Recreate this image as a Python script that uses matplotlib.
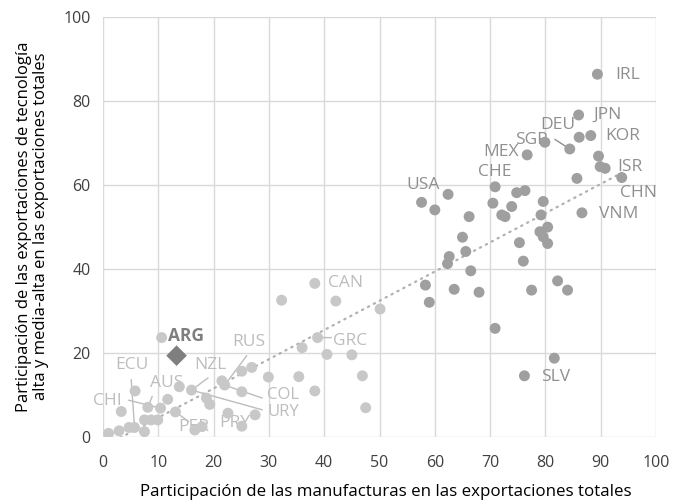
import matplotlib
matplotlib.use("Agg")
import matplotlib.pyplot as plt
import numpy as np

# ---------------- data ----------------
# Group with lower manufacturing share (light grey)
light_x = [1.0, 2.9, 4.7, 5.7, 7.5, 3.3, 5.8, 7.5, 8.7, 9.9, 8.1, 10.4, 11.7, 13.1,
           13.8, 16.0, 18.7, 19.3, 16.6, 17.9, 22.6, 25.1, 21.5, 22.0, 25.1, 26.9,
           25.1, 27.5, 29.9, 10.6, 32.3, 38.3, 42.1, 50.1, 38.8, 36.0, 40.5, 45.0,
           35.4, 46.9, 38.3, 47.5]
light_y = [0.8, 1.4, 2.2, 2.2, 1.2, 6.0, 10.9, 4.0, 4.0, 4.0, 7.0, 6.8, 8.9, 5.9,
           11.9, 11.1, 9.2, 7.7, 1.6, 2.4, 5.6, 2.5, 13.3, 12.3, 15.6, 16.5,
           10.7, 5.2, 14.2, 23.6, 32.5, 36.5, 32.3, 30.4, 23.6, 21.2, 19.6, 19.5,
           14.3, 14.5, 10.9, 6.9]

# Group with higher manufacturing share (dark grey)
dark_x = [58.3, 59.0, 63.5, 66.5, 62.3, 68.0, 76.7, 57.6, 62.4, 60.0, 66.2, 70.9,
          70.5, 72.1, 72.7, 73.9, 74.8, 76.3, 79.6, 79.2, 80.4, 79.0, 79.6, 80.4,
          75.3, 76.0, 65.0, 65.6, 62.6, 77.5, 82.2, 84.0, 70.9, 81.6, 76.2, 89.4,
          86.0, 86.1, 88.2, 84.4, 79.9, 89.6, 89.9, 90.8, 93.8, 85.7, 86.6]
dark_y = [36.1, 32.0, 35.1, 39.5, 41.2, 34.4, 67.1, 55.8, 57.7, 54.0, 52.4, 59.5,
          55.6, 52.8, 52.4, 54.8, 58.1, 58.6, 56.0, 52.8, 49.9, 48.8, 47.6, 46.0,
          46.2, 41.8, 47.5, 44.1, 42.9, 34.9, 37.1, 34.9, 25.8, 18.7, 14.5, 86.3,
          76.6, 71.3, 71.7, 68.5, 70.1, 66.8, 64.3, 63.9, 61.7, 61.5, 53.3]

# Argentina (highlighted)
arg_x = [13.3]
arg_y = [19.3]

light_names = ["ECU", "AUS", "CHI", "NZL", "RUS", "PER", "PRY", "COL", "URY", "CAN", "GRC"]
dark_names = ["USA", "MEX", "CHE", "SGP", "DEU", "JPN", "KOR", "IRL", "ISR", "CHN", "VNM", "SLV"]

x_ticks = [0, 10, 20, 30, 40, 50, 60, 70, 80, 90, 100]
y_ticks = [0, 20, 40, 60, 80, 100]

x_label = "Participación de las manufacturas en las exportaciones totales"
y_label = ("Participación de las exportaciones de tecnología\n"
           "alta y media-alta en las exportaciones totales")

# ---------------- layout / style ----------------
# label placement (text left edge, vertical centre) and optional leader line
label_layout = {
    "ECU": ((2.2, 17.1), ((5.1, 13.6), (5.7, 2.2))),
    "AUS": ((8.5, 12.8), ((8.9, 9.6), (8.1, 7.0))),
    "CHI": ((-1.8, 8.5), ((4.6, 8.7), (10.4, 6.8))),
    "NZL": ((16.5, 17.1), ((19.0, 14.0), (16.0, 11.1))),
    "RUS": ((23.3, 22.6), ((26.0, 19.3), (22.0, 12.3))),
    "PER": ((13.6, 2.3), ((15.5, 3.6), (13.1, 5.9))),
    "PRY": ((21.0, 3.2), None),
    "COL": ((29.7, 9.9), ((28.8, 9.2), (21.5, 12.5))),
    "URY": ((29.8, 6.0), ((28.8, 6.4), (16.0, 11.1))),
    "CAN": ((40.7, 36.7), None),
    "GRC": ((41.5, 22.9), ((41.3, 23.6), (38.8, 23.6))),
    "USA": ((54.8, 59.9), None),
    "MEX": ((68.7, 67.9), None),
    "CHE": ((67.8, 63.1), None),
    "SGP": ((74.5, 70.6), None),
    "DEU": ((79.0, 74.2), ((81.7, 70.8), (84.4, 68.5))),
    "JPN": ((88.6, 76.6), None),
    "KOR": ((90.8, 71.6), None),
    "IRL": ((92.6, 86.1), None),
    "ISR": ((93.0, 64.1), None),
    "CHN": ((93.5, 58.1), None),
    "VNM": ((89.7, 53.0), None),
    "SLV": ((79.3, 14.1), None),
}
small_labels = {"COL": 12.0, "URY": 12.0}
arg_label_pos = (11.8, 23.9)

FONT = ["Open Sans", "DejaVu Sans"]
plt.rcParams["font.family"] = FONT

light_pt = "#c8c8c8"
dark_pt = "#9f9f9f"
light_txt = "#bdbdbd"
dark_txt = "#8f8f8f"
arg_col = "#7f7f7f"
grid_col = "#d9d9d9"

fig = plt.figure(figsize=(6.75, 5.04), dpi=100)
ax = fig.add_axes([0.1526, 0.1335, 0.8193, 0.8334])

ax.set_xlim(0, 100)
ax.set_ylim(0, 100)
ax.set_xticks(x_ticks)
ax.set_yticks(y_ticks)
ax.set_xticklabels([str(t) for t in x_ticks])
ax.set_yticklabels([str(t) for t in y_ticks])
ax.grid(True, color=grid_col, linewidth=1.0, zorder=0)
ax.set_axisbelow(True)
for s in ax.spines.values():
    s.set_visible(False)
ax.tick_params(axis="both", length=0, labelsize=11.5, colors="#404040")
ax.tick_params(axis="x", pad=13)
ax.tick_params(axis="y", pad=9)

# trend line fitted on all country points
all_x = np.array(light_x + dark_x + arg_x)
all_y = np.array(light_y + dark_y + arg_y)
b1, b0 = np.polyfit(all_x, all_y, 1)
tx = np.linspace(all_x.min(), all_x.max(), 200)
ax.plot(tx, b0 + b1 * tx, linestyle=(0, (0.6, 2.4)), color="#b0b0b0",
        linewidth=1.6, dash_capstyle="round", zorder=2)

# labels and leader lines
for name, ((tx_, ty_), leader) in label_layout.items():
    col = light_txt if name in light_names else dark_txt
    ax.text(tx_, ty_, name, ha="left", va="center",
            fontsize=small_labels.get(name, 12.5), color=col,
            zorder=3, clip_on=False)
    if leader is not None:
        (ax0, ay0), (ax1, ay1) = leader
        ax.annotate("", xy=(ax1, ay1), xytext=(ax0, ay0),
                    arrowprops=dict(arrowstyle="-", color=col, lw=1.0,
                                    shrinkA=0, shrinkB=0), zorder=3)

ax.scatter(light_x, light_y, s=62, color=light_pt, edgecolors="none", zorder=4)
ax.scatter(dark_x, dark_y, s=62, color=dark_pt, edgecolors="none", zorder=4)
ax.scatter(arg_x, arg_y, s=110, marker="D", color=arg_col, edgecolors="none", zorder=5)
ax.text(arg_label_pos[0], arg_label_pos[1], "ARG", ha="left", va="center",
        fontsize=12.5, fontweight="bold", color=arg_col, zorder=5)

ax.set_xlabel(x_label, fontsize=12.2, labelpad=11, color="#000000")
ax.xaxis.set_label_coords(0.512, -0.112)
ax.set_ylabel(y_label, fontsize=12.0, labelpad=10, color="#000000", linespacing=1.1)

fig.savefig("out.png", dpi=100)
